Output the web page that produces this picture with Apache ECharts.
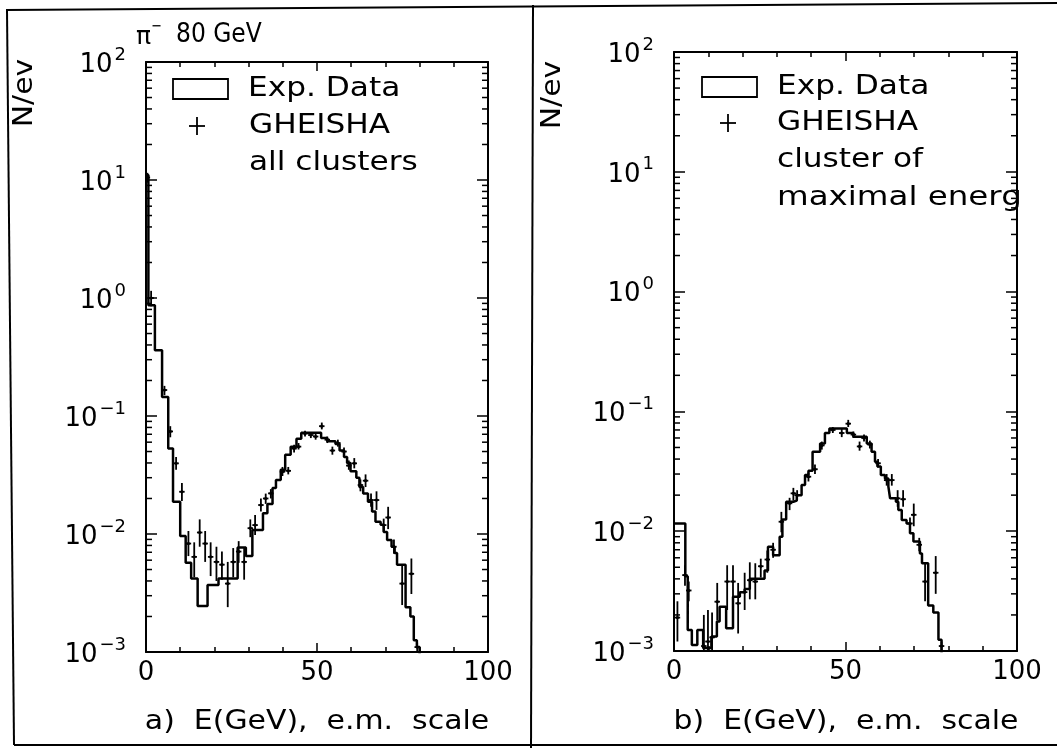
<!DOCTYPE html>
<html><head><meta charset="utf-8">
<script src="https://cdn.jsdelivr.net/npm/echarts@6/dist/echarts.min.js"></script>
<style>html,body{margin:0;padding:0;background:#fff}#c{width:1057px;height:748px}</style>
</head><body><div id="c"></div>
<script>
// ---------- data ----------
const xTickValues = [0, 50, 100];
const yMin = 0.001, yMax = 100;

// panel a) Exp. Data histogram: step start energy (GeV) and N/ev
const expA_E = [0,0.7,2.6,4.7,6.5,7.9,10.0,11.6,13.2,15.1,18.0,21.2,26.8,29.2,31.1,34.2,35.5,37.0,38.0,39.4,40.7,42.3,44.0,45.4,51.2,53.0,55.4,56.6,57.9,58.8,59.8,61.5,62.4,63.5,64.9,66.1,67.1,68.6,69.5,70.5,71.8,72.7,73.4,75.9,77.3,78.3,79.2,80.0];
const expA_N = [11,0.87,0.36,0.145,0.053,0.0188,0.0096,0.0057,0.0042,0.00245,0.0037,0.0042,0.0077,0.0065,0.0108,0.015,0.018,0.0245,0.0287,0.035,0.047,0.055,0.064,0.072,0.065,0.061,0.058,0.051,0.045,0.040,0.034,0.030,0.025,0.022,0.0188,0.0155,0.0127,0.012,0.0104,0.0089,0.0078,0.0069,0.0055,0.0024,0.002,0.00126,0.0011,0.0005];

// panel a) GHEISHA points with error bars
const gheA_E  = [0.4,1.5,5.4,7.1,8.8,10.5,12.4,14.1,15.7,17.3,18.9,20.6,22.2,23.9,25.5,27.1,28.7,30.5,31.9,33.6,35.0,36.5,39.9,41.6,43.3,44.6,46.5,48.2,49.6,51.4,53.0,54.5,56.1,57.9,59.3,60.9,62.7,64.2,65.8,67.4,69.5,70.8,72.5,74.9,77.6,79.3];
const gheA_N  = [10.5,1.0,0.166,0.074,0.0397,0.0228,0.0083,0.0064,0.0103,0.0083,0.0064,0.0058,0.0055,0.0038,0.0058,0.0071,0.0058,0.0112,0.0119,0.0176,0.020,0.0221,0.0337,0.0343,0.053,0.055,0.071,0.069,0.067,0.082,0.063,0.051,0.059,0.050,0.038,0.0397,0.026,0.0283,0.0194,0.0194,0.0119,0.0138,0.0078,0.0038,0.0046,0.0011];
const gheA_lo = [9.5,0.85,0.15,0.066,0.035,0.019,0.0065,0.0043,0.0078,0.0058,0.0044,0.004,0.0041,0.0024,0.0043,0.0057,0.0041,0.0094,0.0098,0.0155,0.018,0.020,0.031,0.032,0.049,0.052,0.067,0.065,0.063,0.077,0.059,0.047,0.055,0.046,0.035,0.036,0.023,0.025,0.017,0.016,0.0105,0.011,0.0068,0.0025,0.0031,0.001];
const gheA_hi = [11.5,1.15,0.18,0.082,0.045,0.027,0.0106,0.0085,0.0133,0.0106,0.0085,0.0078,0.0071,0.0058,0.0076,0.0087,0.0076,0.0133,0.0145,0.020,0.022,0.024,0.037,0.037,0.057,0.059,0.075,0.073,0.071,0.088,0.067,0.055,0.063,0.054,0.042,0.044,0.029,0.032,0.022,0.023,0.0135,0.017,0.009,0.0055,0.0062,0.0012];

// panel b) Exp. Data histogram
const expB_E = [0,3.3,4.0,5.2,6.8,8.5,10.9,12.5,13.3,15.2,17.2,19.2,20.6,22.1,26.4,27.4,28.9,30.8,31.6,32.7,34.8,35.8,37.2,38.2,39.2,40.4,42.6,44.0,45.3,50.4,52.3,56.2,57.6,58.6,59.3,60.3,61.5,62.5,63.0,64.7,65.4,66.4,67.8,68.8,69.8,71.7,72.3,74.1,75.6,77.1,78.0];
const expB_N = [0.0116,0.0042,0.0015,0.00112,0.0015,0.00106,0.00132,0.00176,0.00234,0.00155,0.00284,0.0031,0.0033,0.004,0.0047,0.0074,0.0063,0.009,0.0125,0.0176,0.018,0.02,0.0243,0.0295,0.032,0.046,0.054,0.066,0.072,0.066,0.0615,0.054,0.046,0.038,0.0346,0.0295,0.0276,0.0236,0.0188,0.0176,0.015,0.0124,0.0116,0.0096,0.0082,0.0065,0.0054,0.0024,0.0021,0.00124,0.0005];

// panel b) GHEISHA points with error bars
const gheB_E  = [1.0,3.2,4.3,8.7,9.9,11.1,12.6,15.5,17.2,18.7,20.6,22.1,23.7,25.3,27.2,28.9,31.3,33.7,34.8,35.9,39.2,41.1,43.1,46.3,48.9,50.8,52.3,54.1,55.4,57.1,59.5,62.0,63.5,65.2,66.8,68.8,69.9,71.5,73.2,76.3,78.0];
const gheB_N  = [0.0019,0.0043,0.0032,0.0011,0.0012,0.0013,0.00258,0.0038,0.0038,0.0025,0.0031,0.0039,0.0038,0.0051,0.0058,0.007,0.012,0.0171,0.0207,0.020,0.0285,0.0329,0.052,0.070,0.066,0.079,0.064,0.051,0.060,0.053,0.0369,0.0267,0.0267,0.0188,0.0185,0.0116,0.0137,0.0077,0.0038,0.0045,0.0011];
const gheB_lo = [0.0012,0.0035,0.0026,0.001,0.001,0.001,0.0018,0.0022,0.0023,0.0014,0.0022,0.0027,0.0027,0.0041,0.0045,0.006,0.0098,0.015,0.018,0.018,0.026,0.030,0.048,0.066,0.061,0.074,0.060,0.047,0.056,0.049,0.034,0.024,0.024,0.016,0.016,0.0105,0.011,0.0068,0.0026,0.003,0.001];
const gheB_hi = [0.0026,0.0052,0.0038,0.002,0.0022,0.0021,0.0037,0.0052,0.0052,0.0037,0.0045,0.0055,0.0054,0.0059,0.0069,0.008,0.0145,0.019,0.023,0.022,0.031,0.036,0.056,0.074,0.072,0.085,0.068,0.056,0.064,0.057,0.040,0.030,0.030,0.022,0.022,0.013,0.017,0.0088,0.0055,0.0062,0.0012];

// log minor tick values (axis decoration)
const minorLogTicks = [];
for (let d = -3; d < 2; d++) for (let k = 2; k <= 9; k++) minorLogTicks.push(k * Math.pow(10, d));

// ---------- chart ----------
const FONT = 'DejaVu Sans';
const chart = echarts.init(document.getElementById('c'), null, {renderer: 'canvas'});

function zip(a, b) { return a.map((v, i) => [v, b[i]]); }
function zip4(a, b, c, d) { return a.map((v, i) => [v, b[i], c[i], d[i]]); }

function crossItem(params, api) {
  const e = api.value(0), n = api.value(1), lo = api.value(2), hi = api.value(3);
  const c = api.coord([e, n]);
  const pl = api.coord([e - 0.8, n]), pr = api.coord([e + 0.8, n]);
  const pt = api.coord([e, hi]), pb = api.coord([e, lo]);
  const st = {stroke: '#000', lineWidth: 1.8};
  return {type: 'group', children: [
    {type: 'line', shape: {x1: pl[0], y1: c[1], x2: pr[0], y2: c[1]}, style: st},
    {type: 'line', shape: {x1: c[0], y1: pt[1], x2: c[0], y2: pb[1]}, style: st},
    {type: 'circle', shape: {cx: c[0], cy: c[1], r: 1.6}, style: {fill: '#000'}}
  ]};
}
function minorTickItem(params, api) {
  const v = api.value(1);
  const l = api.coord([0, v]), r = api.coord([100, v]);
  const st = {stroke: '#000', lineWidth: 1.5};
  return {type: 'group', children: [
    {type: 'line', shape: {x1: l[0], y1: l[1], x2: l[0] + 6, y2: l[1]}, style: st},
    {type: 'line', shape: {x1: r[0] - 6, y1: r[1], x2: r[0], y2: r[1]}, style: st}
  ]};
}

function xAx(g, pos) {
  return {
    gridIndex: g, type: 'value', min: 0, max: 100, interval: 50, position: pos,
    axisLine: {show: true, onZero: false, lineStyle: {color: '#000', width: 2}},
    axisTick: {show: true, inside: true, length: 9, lineStyle: {color: '#000', width: 1.5}},
    minorTick: {show: true, splitNumber: 5, length: 5, lineStyle: {color: '#000', width: 1.5}},
    splitLine: {show: false}, minorSplitLine: {show: false},
    axisLabel: {show: pos === 'bottom', color: '#000', fontSize: 26, fontFamily: FONT, margin: 8,
      formatter: v => xTickValues.includes(v) ? String(v) : ''}
  };
}
function yAx(g, pos) {
  return {
    gridIndex: g, type: 'log', logBase: 10, min: yMin, max: yMax, position: pos,
    axisLine: {show: true, onZero: false, lineStyle: {color: '#000', width: 2}},
    axisTick: {show: true, inside: true, length: 11, lineStyle: {color: '#000', width: 1.5}},
    splitLine: {show: false},
    axisLabel: {show: pos === 'left', margin: 20,
      formatter: v => { const e = Math.round(Math.log10(v)); return '{b|10}{s|' + (e < 0 ? '\u2212' + (-e) : String(e)) + '}'; },
      rich: {
        b: {fontSize: 26, fontFamily: FONT, color: '#000', lineHeight: 32, verticalAlign: 'bottom'},
        s: {fontSize: 18, fontFamily: FONT, color: '#000', lineHeight: 18, verticalAlign: 'top', padding: [0, 0, 0, 2]}
      }}
  };
}

function txt(x, y, text, extra) {
  return Object.assign({type: 'text', x: x, y: y, scaleX: 1.2, z: 100,
    style: {text: text, fontSize: 26, fontFamily: FONT, fill: '#000', align: 'left', verticalAlign: 'middle'}}, extra || {});
}
function plus(cx, cy) {
  const st = {stroke: '#000', lineWidth: 1.8};
  return [
    {type: 'line', shape: {x1: cx - 8, y1: cy, x2: cx + 8, y2: cy}, style: st, z: 100},
    {type: 'line', shape: {x1: cx, y1: cy - 9, x2: cx, y2: cy + 9}, style: st, z: 100}
  ];
}
function vtxt(x, y) {
  return {type: 'text', x: x, y: y, rotation: Math.PI / 2, scaleX: 1.15, z: 100,
    style: {text: 'N/ev', fontSize: 26, fontFamily: FONT, fill: '#000', align: 'center', verticalAlign: 'middle'}};
}

const graphics = [
  // frame lines
  {type: 'polyline', shape: {points: [[6, 10], [1057, 3]]}, style: {stroke: '#000', lineWidth: 2}, z: 100},
  {type: 'polyline', shape: {points: [[7, 10], [14, 745]]}, style: {stroke: '#000', lineWidth: 2}, z: 100},
  {type: 'polyline', shape: {points: [[14, 745], [1057, 745]]}, style: {stroke: '#000', lineWidth: 2}, z: 100},
  {type: 'polyline', shape: {points: [[533, 5], [531, 748]]}, style: {stroke: '#000', lineWidth: 2}, z: 100},
  // y axis names
  vtxt(25, 93),
  vtxt(553, 95),
  // title: pi^- 80 GeV
  txt(136, 37, '\u03c0', {scaleX: 1.0, style: {text: '\u03c0', fontSize: 25, fontFamily: FONT, fill: '#000', align: 'left', verticalAlign: 'middle'}}),
  txt(151, 27, '\u2212', {scaleX: 0.8, style: {text: '\u2212', fontSize: 16, fontFamily: FONT, fill: '#000', align: 'left', verticalAlign: 'middle'}}),
  txt(176, 35, '80 GeV', {scaleX: 0.9, style: {text: '80 GeV', fontSize: 26, fontFamily: FONT, fill: '#000', align: 'left', verticalAlign: 'middle'}}),
  // x axis titles
  txt(317, 722, '', {scaleX: 1.15, style: {text: 'a)  E(GeV),  e.m.  scale', fontSize: 26, fontFamily: FONT, fill: '#000', align: 'center', verticalAlign: 'middle'}}),
  txt(846, 722, '', {scaleX: 1.15, style: {text: 'b)  E(GeV),  e.m.  scale', fontSize: 26, fontFamily: FONT, fill: '#000', align: 'center', verticalAlign: 'middle'}}),
  // legend a
  {type: 'rect', shape: {x: 173, y: 79, width: 55, height: 20}, style: {fill: 'none', stroke: '#000', lineWidth: 1.8}, z: 100},
  txt(248, 89, 'Exp. Data'),
  ...plus(197, 126),
  txt(249, 126, 'GHEISHA'),
  txt(249, 163, 'all clusters'),
  // legend b
  {type: 'rect', shape: {x: 702, y: 77, width: 55, height: 20}, style: {fill: 'none', stroke: '#000', lineWidth: 1.8}, z: 100},
  txt(777, 87, 'Exp. Data'),
  ...plus(728, 123),
  txt(777, 123, 'GHEISHA'),
  txt(777, 160, 'cluster of'),
  txt(777, 198, 'maximal energy', {scaleX: 1.25}),
  {type: 'rect', shape: {x: 1019, y: 176, width: 38, height: 44}, style: {fill: '#fff'}, z: 101}
];

const option = {
  backgroundColor: '#fff',
  animation: false,
  grid: [
    {left: 146, top: 62, width: 342, height: 590},
    {left: 674, top: 52, width: 343, height: 599}
  ],
  xAxis: [xAx(0, 'bottom'), xAx(0, 'top'), xAx(1, 'bottom'), xAx(1, 'top')],
  yAxis: [yAx(0, 'left'), yAx(0, 'right'), yAx(1, 'left'), yAx(1, 'right')],
  series: [
    {type: 'line', xAxisIndex: 0, yAxisIndex: 0, step: 'end', data: zip(expA_E, expA_N), showSymbol: false, symbol: 'none', clip: true,
      lineStyle: {color: '#000', width: 2.5}},
    {type: 'custom', xAxisIndex: 0, yAxisIndex: 0, renderItem: crossItem, data: zip4(gheA_E, gheA_N, gheA_lo, gheA_hi), clip: true},
    {type: 'custom', xAxisIndex: 0, yAxisIndex: 0, renderItem: minorTickItem, data: minorLogTicks.map(v => [0, v]), clip: false},
    {type: 'line', xAxisIndex: 2, yAxisIndex: 2, step: 'end', data: zip(expB_E, expB_N), showSymbol: false, symbol: 'none', clip: true,
      lineStyle: {color: '#000', width: 2.5}},
    {type: 'custom', xAxisIndex: 2, yAxisIndex: 2, renderItem: crossItem, data: zip4(gheB_E, gheB_N, gheB_lo, gheB_hi), clip: true},
    {type: 'custom', xAxisIndex: 2, yAxisIndex: 2, renderItem: minorTickItem, data: minorLogTicks.map(v => [0, v]), clip: false}
  ],
  graphic: graphics
};
chart.setOption(option);
</script>
</body></html>
